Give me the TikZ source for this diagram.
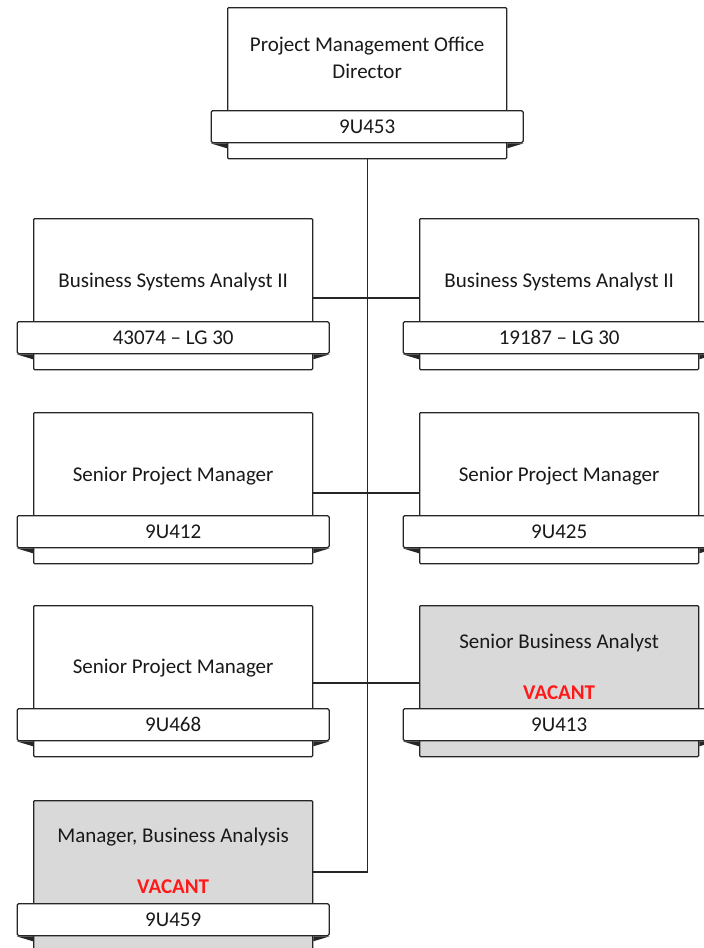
\documentclass[tikz,border=0pt]{standalone}
\usepackage{fontspec}
\setmainfont{Carlito}
\usetikzlibrary{calc}
\definecolor{vacantfill}{HTML}{D9D9D9}
\definecolor{edge}{HTML}{262626}
\definecolor{vacantred}{HTML}{FF1A1A}
\tikzset{
  x=1pt, y=1pt,
  posbox/.style={draw=edge, line width=1.3pt, minimum width=279pt, minimum height=151pt,
    anchor=north west, inner sep=0pt, rounded corners=1pt},
  bandbox/.style={draw=edge, line width=1.3pt, fill=white, minimum width=312pt, minimum height=32pt,
    anchor=north, inner sep=0pt, rounded corners=1.5pt, font=\fontsize{21}{24}\selectfont, text=black!90},
  titletext/.style={font=\fontsize{21}{27}\selectfont, align=center, text=black!90},
  vacanttext/.style={font=\bfseries\fontsize{21}{24}\selectfont, text=vacantred},
  link/.style={draw=edge, line width=1.2pt},
  fold/.style={fill=edge}
}
% One position: frame, code band, folded band ends
\newcommand\position[5]{%
  \node[posbox, fill=#4] (#1) at (#2,-#3) {};
  \node[bandbox] (#1band) at ($(#1.north)+(0,-103)$) {#5};
  \fill[fold] (#1band.south west) -- (#1.west |- #1band.south) -- ++(0,-5) -- cycle;
  \fill[fold] (#1band.south east) -- (#1.east |- #1band.south) -- ++(0,-5) -- cycle;
}
\begin{document}
\begin{tikzpicture}
\useasboundingbox (0,0) rectangle (704,-948);
\begin{scope}
\clip (0,0) rectangle (704,-948);

\position{dir}{227}{7}{white}{9U453}
\node[titletext] (dirT) at ($(dir.north)+(0,-51)$) {Project Management Office\\Director};

\position{bsaL}{33}{218}{white}{43074 – LG 30}
\node[titletext] (bsaLT) at ($(bsaL.north)+(0,-64)$) {Business Systems Analyst II};
\position{bsaR}{419}{218}{white}{19187 – LG 30}
\node[titletext] (bsaRT) at ($(bsaR.north)+(0,-64)$) {Business Systems Analyst II};

\position{spmA}{33}{412}{white}{9U412}
\node[titletext] (spmAT) at ($(spmA.north)+(0,-64)$) {Senior Project Manager};
\position{spmB}{419}{412}{white}{9U425}
\node[titletext] (spmBT) at ($(spmB.north)+(0,-64)$) {Senior Project Manager};

\position{spmC}{33}{605}{white}{9U468}
\node[titletext] (spmCT) at ($(spmC.north)+(0,-63)$) {Senior Project Manager};
\position{sba}{419}{605}{vacantfill}{9U413}
\node[titletext] (sbaT) at ($(sba.north)+(0,-38)$) {Senior Business Analyst};
\node[vacanttext] (sbaV) at ($(sba.north)+(0,-88)$) {VACANT};

\position{mba}{33}{800}{vacantfill}{9U459}
\node[titletext] (mbaT) at ($(mba.north)+(0,-37)$) {Manager, Business Analysis};
\node[vacanttext] (mbaV) at ($(mba.north)+(0,-87)$) {VACANT};

% reporting lines
\coordinate (spine) at ($(mba.north east)+(53,-72)$);
\draw[link] (dir.south) -- (dir.south |- spine) -- (mba.east |- spine);
\draw[link] ($(bsaL.north east)+(0,-80)$) -- ($(bsaR.north west)+(0,-80)$);
\draw[link] ($(spmA.north east)+(0,-81)$) -- ($(spmB.north west)+(0,-81)$);
\draw[link] ($(spmC.north east)+(0,-78)$) -- ($(sba.north west)+(0,-78)$);
\end{scope}
\end{tikzpicture}
\end{document}
